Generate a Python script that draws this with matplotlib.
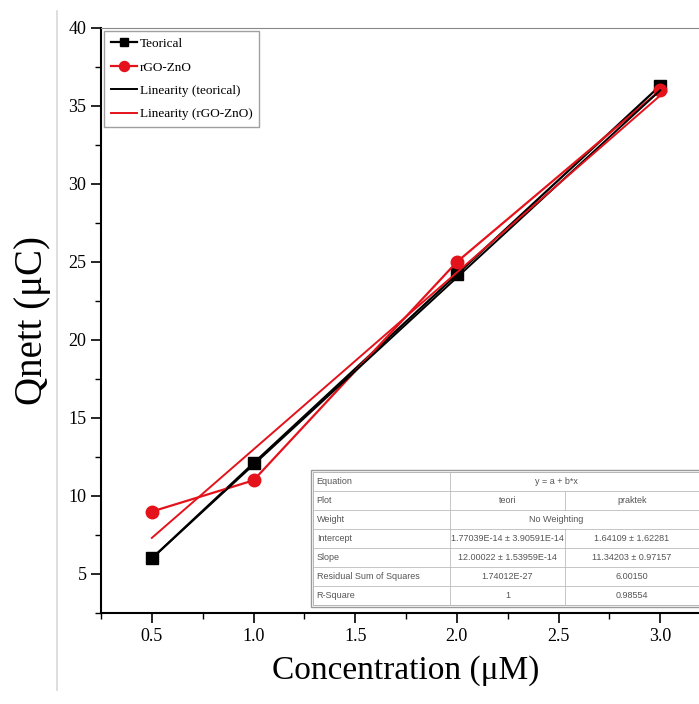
import matplotlib.pyplot as plt
import numpy as np
from matplotlib.ticker import MultipleLocator
from matplotlib.patches import Rectangle
from matplotlib.lines import Line2D

# data
conc = [0.5, 1.0, 2.0, 3.0]
q_teori = [6.0, 12.1, 24.2, 36.3]
q_rgo = [9.0, 11.0, 25.0, 36.0]

# fit coefficients (intercept, slope) as given in the table
fit_teori = [1.77039e-14, 12.00022]
fit_rgo = [1.64109, 11.34203]

table_rows = [
    ['Equation', 'y = a + b*x', None],
    ['Plot', 'teori', 'praktek'],
    ['Weight', 'No Weighting', None],
    ['Intercept', '1.77039E-14 \u00b1 3.90591E-14', '1.64109 \u00b1 1.62281'],
    ['Slope', '12.00022 \u00b1 1.53959E-14', '11.34203 \u00b1 0.97157'],
    ['Residual Sum of Squares', '1.74012E-27', '6.00150'],
    ['R-Square', '1', '0.98554'],
]

plt.rcParams['font.family'] = ['Liberation Serif', 'DejaVu Serif']


def draw_table(ax):
    x0, x1, x2, x3 = 0.3475, 0.572, 0.7607, 1.0
    top, bot = 0.241, 0.0137
    h = (top - bot) / len(table_rows)
    grey = '#555555'
    ax.add_patch(Rectangle((x0 - 0.004, bot - 0.004), x3 - x0 + 0.008, top - bot + 0.008,
                           transform=ax.transAxes, facecolor='white', edgecolor='#999999',
                           lw=1.0, zorder=5))
    ax.add_patch(Rectangle((x0, bot), x3 - x0, top - bot, transform=ax.transAxes,
                           facecolor='white', edgecolor='#aaaaaa', lw=0.6, zorder=5))
    for i, (name, a, b) in enumerate(table_rows):
        yt = top - i * h
        yc = yt - h / 2
        if i > 0:
            ax.plot([x0, x3], [yt, yt], transform=ax.transAxes, color='#bbbbbb',
                    lw=0.6, zorder=6)
        ax.plot([x1, x1], [yt, yt - h], transform=ax.transAxes, color='#bbbbbb',
                lw=0.6, zorder=6)
        ax.text(x0 + 0.006, yc, name, transform=ax.transAxes, fontsize=6.5,
                family=['Liberation Sans'], color=grey, va='center', zorder=7)
        if b is None:
            ax.text((x1 + x3) / 2 - 0.04, yc, a, transform=ax.transAxes, fontsize=6.5,
                    family=['Liberation Sans'], color=grey, va='center', ha='center',
                    zorder=7)
        else:
            ax.plot([x2, x2], [yt, yt - h], transform=ax.transAxes, color='#bbbbbb',
                    lw=0.6, zorder=6)
            ax.text((x1 + x2) / 2, yc, a, transform=ax.transAxes, fontsize=6.5,
                    family=['Liberation Sans'], color=grey, va='center', ha='center',
                    zorder=7)
            ax.text((x2 + 0.98) / 2, yc, b, transform=ax.transAxes, fontsize=6.5,
                    family=['Liberation Sans'], color=grey, va='center', ha='center',
                    zorder=7)


def main():
    fig = plt.figure(figsize=(6.99, 7.04), dpi=100)
    ax = fig.add_axes([0.1445, 0.1293, 0.8727, 0.8310])

    # faint scan edge on the left of the original figure
    fig.add_artist(Line2D([0.082, 0.082], [0.02, 0.985], color='#d8d8d8', lw=1.2))

    x = np.array(conc)
    ax.plot(conc, q_teori, color='black', marker='s', ms=8, lw=1.6, label='Teorical')
    ax.plot(conc, q_rgo, color='#e4121b', marker='o', ms=9, lw=1.6, label='rGO-ZnO')
    ax.plot(x, fit_teori[0] + fit_teori[1] * x, color='black', lw=1.4,
            label='Linearity (teorical)')
    ax.plot(x, fit_rgo[0] + fit_rgo[1] * x, color='#e4121b', lw=1.4,
            label='Linearity (rGO-ZnO)')

    ax.set_xlim(0.25, 3.25)
    ax.set_ylim(2.5, 40)
    ax.xaxis.set_minor_locator(MultipleLocator(0.25))
    ax.yaxis.set_minor_locator(MultipleLocator(2.5))
    ax.set_xticks([0.5, 1.0, 1.5, 2.0, 2.5, 3.0])
    ax.set_yticks([5, 10, 15, 20, 25, 30, 35, 40])
    ax.tick_params(which='major', direction='out', length=7, width=1.2, labelsize=13)
    ax.tick_params(which='minor', direction='out', length=4, width=1.0)
    ax.spines['left'].set_linewidth(1.5)
    ax.spines['bottom'].set_linewidth(1.5)
    ax.spines['top'].set_color('#888888')
    ax.spines['right'].set_visible(False)

    ax.set_xlabel('Concentration (\u03bcM)', fontsize=24, labelpad=8)
    ax.set_ylabel('Qnett (\u03bcC)', fontsize=28)
    ax.yaxis.set_label_coords(-0.082, 0.5)

    ax.legend(loc='upper left', fontsize=9.5, frameon=True, fancybox=False,
              edgecolor='#888888', borderaxespad=0.25, handlelength=2.0,
              handletextpad=0.2, labelspacing=0.85, borderpad=0.5, markerscale=0.8)

    draw_table(ax)

    fig.savefig('out.png', dpi=100)


if __name__ == '__main__':
    main()
